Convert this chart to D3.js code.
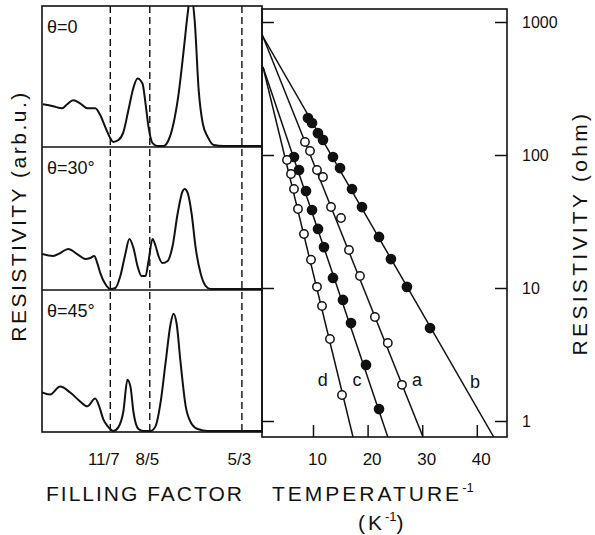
<!DOCTYPE html>
<html>
<head>
<meta charset="utf-8">
<script src="https://cdn.jsdelivr.net/npm/d3@7"></script>
<style>
  body { margin: 0; background: #fff; }
  text { font-family: "Liberation Sans", Arial, sans-serif; fill: #111; }
</style>
</head>
<body>
<svg id="chart" width="595" height="535"></svg>
<script>
// ---- left: resistivity (arb. u.) vs filling factor, three tilt angles ----
const nuMarks = [11 / 7, 8 / 5, 5 / 3];
const nuLabels = ["11/7", "8/5", "5/3"];
const angleLabels = ["θ=0", "θ=30°", "θ=45°"];

const nu0 = [1.5227, 1.5300, 1.5365, 1.5402, 1.5445, 1.5496, 1.5547, 1.5605, 1.5642, 1.5678, 1.5714, 1.5736,
    1.5773, 1.5809, 1.5845, 1.5882, 1.5911, 1.5947, 1.5969, 1.5991, 1.6020, 1.6056, 1.6100, 1.6136, 1.6172,
    1.6209, 1.6245, 1.6274, 1.6296, 1.6325, 1.6354, 1.6383, 1.6420, 1.6463, 1.6536, 1.6812];
const amp0 = [0.30, 0.286, 0.271, 0.30, 0.329, 0.307, 0.271, 0.271, 0.221, 0.136, 0.057, 0.029,
    0.043, 0.10, 0.257, 0.421, 0.486, 0.45, 0.307, 0.136, 0.021, 0.0, 0.0, 0.043, 0.164,
    0.379, 0.686, 0.95, 1.10, 0.90, 0.40, 0.164, 0.064, 0.007, 0.0, 0.0];

const nu30 = [1.5220, 1.5300, 1.5351, 1.5409, 1.5474, 1.5533, 1.5569, 1.5598, 1.5620, 1.5642, 1.5678, 1.5714,
    1.5751, 1.5787, 1.5823, 1.5852, 1.5882, 1.5911, 1.5940, 1.5969, 1.5991, 1.6020, 1.6042, 1.6063, 1.6092,
    1.6129, 1.6165, 1.6201, 1.6238, 1.6252, 1.6274, 1.6303, 1.6332, 1.6369, 1.6405, 1.6441, 1.6812];
const amp30 = [0.248, 0.234, 0.255, 0.284, 0.248, 0.213, 0.22, 0.234, 0.184, 0.113, 0.035, 0.0,
    0.007, 0.092, 0.248, 0.355, 0.291, 0.163, 0.092, 0.092, 0.199, 0.355, 0.305, 0.234, 0.184,
    0.199, 0.305, 0.532, 0.695, 0.709, 0.681, 0.532, 0.291, 0.106, 0.021, 0.0, 0.0];

const nu45 = [1.5220, 1.5278, 1.5351, 1.5424, 1.5496, 1.5547, 1.5605, 1.5634, 1.5663, 1.5700, 1.5736, 1.5773,
    1.5809, 1.5838, 1.5860, 1.5882, 1.5918, 1.5954, 1.6005, 1.6042, 1.6078, 1.6114, 1.6151, 1.6172, 1.6194,
    1.6223, 1.6260, 1.6296, 1.6347, 1.6420, 1.6812];
const amp45 = [0.275, 0.261, 0.317, 0.275, 0.211, 0.176, 0.232, 0.176, 0.085, 0.028, 0.0, 0.028,
    0.141, 0.366, 0.317, 0.134, 0.014, 0.0, 0.0, 0.035, 0.204, 0.486, 0.768, 0.838, 0.768,
    0.486, 0.176, 0.063, 0.014, 0.0, 0.0];

// ---- right: resistivity (ohm) vs 1/T ----
const invTa = [8.53, 9.45, 10.73, 11.83, 13.30, 15.13, 16.59, 18.60, 21.34, 23.70, 26.30];
const rhoA = [125.3, 107.2, 77.1, 68.4, 40.6, 33.6, 19.3, 12.3, 6.05, 3.86, 1.87];
const invTb = [9.08, 9.82, 10.90, 11.83, 13.66, 14.95, 17.14, 18.97, 22.09, 24.27, 27.20, 31.43];
const rhoB = [189.7, 174, 146, 130, 96.6, 79.8, 55.5, 40.6, 24.2, 16.5, 10.2, 5.0];
const invTc = [6.52, 7.44, 8.72, 9.82, 10.92, 12.01, 13.66, 15.49, 16.96, 19.71, 22.09];
const rhoC = [96.6, 77.1, 53.6, 38.6, 27.8, 20.3, 11.9, 8.13, 5.45, 2.64, 1.23];
const invTd = [5.24, 5.97, 6.52, 7.25, 8.35, 9.63, 10.73, 11.65, 13.11, 15.31];
const rhoD = [91.7, 71.9, 55.5, 39.3, 25.5, 16.3, 10.2, 7.33, 4.14, 1.57];

// fitted straight lines: [invT start, rho start, invT end, rho end]
const fitA = [0.71, 798, 30.15, 0.758];
const fitB = [0.66, 798, 43.1, 0.758];
const fitC = [0.84, 459, 23.7, 0.758];
const fitD = [0.84, 459, 17.33, 0.758];
// curve letter positions [invT, rho]
const labelA = [29.05, 2.03], labelB = [39.67, 1.96], labelC = [18.06, 2.03], labelD = [11.8, 2.03];

const invTTicks = [10, 20, 30, 40];
const rhoTicks = [1, 10, 100, 1000];

const svg = d3.select("#chart");

// layout
const left = { x0: 42, x1: 262, tops: [6, 147, 290], bottoms: [147, 290, 432] };
const right = { x0: 262, x1: 507, y0: 9, y1: 437 };

const xNu = d3.scaleLinear().domain([1.5220, 1.6812]).range([left.x0, left.x1]);

const panels = [
    { nu: nu0, amp: amp0, label: angleLabels[0] },
    { nu: nu30, amp: amp30, label: angleLabels[1] },
    { nu: nu45, amp: amp45, label: angleLabels[2] }
];

svg.append("clipPath").attr("id", "clipLeft")
    .append("rect")
    .attr("x", left.x0).attr("y", left.tops[0])
    .attr("width", left.x1 - left.x0).attr("height", left.bottoms[2] - left.tops[0]);

panels.forEach((p, i) => {
    const top = left.tops[i], bottom = left.bottoms[i] - 1;
    const y = d3.scaleLinear().domain([0, 1]).range([bottom, top + 1]);
    const pts = p.nu.map((n, k) => [n, p.amp[k]]);

    const line = d3.line()
        .x(d => xNu(d[0]))
        .y(d => y(d[1]))
        .curve(d3.curveMonotoneX);

    svg.append("path")
        .datum(pts)
        .attr("clip-path", "url(#clipLeft)")
        .attr("fill", "none")
        .attr("stroke", "#111")
        .attr("stroke-width", 2)
        .attr("stroke-linejoin", "round")
        .attr("d", line);

    svg.append("text")
        .attr("x", left.x0 + 5)
        .attr("y", top + 27)
        .style("font-size", "18px")
        .text(p.label);
});

// dashed filling factor markers
svg.append("g").selectAll("line")
    .data(nuMarks)
    .enter()
    .append("line")
    .attr("x1", d => xNu(d)).attr("x2", d => xNu(d))
    .attr("y1", left.tops[0]).attr("y2", left.bottoms[2])
    .attr("stroke", "#111")
    .attr("stroke-width", 1.4)
    .attr("stroke-dasharray", "7,4");

// left frame
svg.append("rect")
    .attr("x", left.x0).attr("y", left.tops[0])
    .attr("width", left.x1 - left.x0).attr("height", left.bottoms[2] - left.tops[0])
    .attr("fill", "none").attr("stroke", "#111").attr("stroke-width", 1.6);
[left.bottoms[0], left.bottoms[1]].forEach(yy => {
    svg.append("line")
        .attr("x1", left.x0).attr("x2", left.x1)
        .attr("y1", yy).attr("y2", yy)
        .attr("stroke", "#111").attr("stroke-width", 1.6);
});

// filling factor labels
svg.append("g")
    .attr("transform", `translate(0,${left.bottoms[2]})`)
    .call(d3.axisBottom(xNu).tickValues(nuMarks).tickSize(0).tickPadding(21)
        .tickFormat((d, i) => nuLabels[i]))
    .call(g => g.select(".domain").remove())
    .call(g => g.selectAll("text")
        .attr("dx", (d, i) => i === 0 ? -7 : -3)
        .style("font-size", "17px")
        .style("font-family", "'Liberation Sans', Arial, sans-serif"));

// ---- right panel ----
const xT = d3.scaleLinear().domain([0.66, 45.53]).range([right.x0, right.x1]);
const yR = d3.scaleLog().domain([1, 1000]).range([421, 22]);

svg.append("clipPath").attr("id", "clipRight")
    .append("rect")
    .attr("x", right.x0).attr("y", right.y0)
    .attr("width", right.x1 - right.x0).attr("height", right.y1 - right.y0);

const series = [
    { key: "a", x: invTa, y: rhoA, fit: fitA, filled: false, label: labelA },
    { key: "b", x: invTb, y: rhoB, fit: fitB, filled: true, label: labelB },
    { key: "c", x: invTc, y: rhoC, fit: fitC, filled: true, label: labelC },
    { key: "d", x: invTd, y: rhoD, fit: fitD, filled: false, label: labelD }
];

const fitG = svg.append("g").attr("clip-path", "url(#clipRight)");
fitG.selectAll("line")
    .data(series)
    .enter()
    .append("line")
    .attr("x1", d => xT(d.fit[0])).attr("y1", d => yR(d.fit[1]))
    .attr("x2", d => xT(d.fit[2])).attr("y2", d => yR(d.fit[3]))
    .attr("stroke", "#111")
    .attr("stroke-width", 1.5);

series.forEach(s => {
    const pts = s.x.map((v, k) => [v, s.y[k]]);
    svg.append("g").selectAll("circle")
        .data(pts)
        .enter()
        .append("circle")
        .attr("cx", d => xT(d[0]))
        .attr("cy", d => yR(d[1]))
        .attr("r", s.filled ? 4.6 : 4.2)
        .attr("fill", s.filled ? "#111" : "#fff")
        .attr("stroke", "#111")
        .attr("stroke-width", 1.5);

    svg.append("text")
        .attr("x", xT(s.label[0]))
        .attr("y", yR(s.label[1]))
        .attr("text-anchor", "middle")
        .attr("dominant-baseline", "central")
        .style("font-size", "18px")
        .text(s.key);
});

// right frame
svg.append("rect")
    .attr("x", right.x0).attr("y", right.y0)
    .attr("width", right.x1 - right.x0).attr("height", right.y1 - right.y0)
    .attr("fill", "none").attr("stroke", "#111").attr("stroke-width", 1.6);

// right axis (labels) with inward ticks
svg.append("g")
    .attr("transform", `translate(${right.x1},0)`)
    .call(d3.axisRight(yR).tickValues(rhoTicks).tickSize(-12).tickPadding(15).tickFormat(d3.format("d")))
    .call(g => g.select(".domain").remove())
    .call(g => g.selectAll("line").attr("stroke", "#111").attr("stroke-width", 1.5))
    .call(g => g.selectAll("text").style("font-size", "16px")
        .style("font-family", "'Liberation Sans', Arial, sans-serif").attr("text-anchor", "start"));

// inward ticks on the left edge of the right panel
svg.append("g")
    .attr("transform", `translate(${right.x0},0)`)
    .call(d3.axisRight(yR).tickValues(rhoTicks).tickSize(12).tickFormat(""))
    .call(g => g.select(".domain").remove())
    .call(g => g.selectAll("line").attr("stroke", "#111").attr("stroke-width", 1.5));

// bottom axis
svg.append("g")
    .attr("transform", `translate(0,${right.y1})`)
    .call(d3.axisBottom(xT).tickValues(invTTicks).tickSize(-12).tickPadding(16))
    .call(g => g.select(".domain").remove())
    .call(g => g.selectAll("line").attr("stroke", "#111").attr("stroke-width", 1.5))
    .call(g => g.selectAll("text").attr("dx", 4).style("font-size", "17px")
        .style("font-family", "'Liberation Sans', Arial, sans-serif"));

// axis titles
svg.append("text")
    .attr("transform", "rotate(-90)")
    .attr("x", -216)
    .attr("y", 26)
    .attr("text-anchor", "middle")
    .style("font-size", "21px")
    .style("letter-spacing", "2.5px")
    .text("RESISTIVITY (arb.u.)");

svg.append("text")
    .attr("transform", "rotate(-90)")
    .attr("x", -233)
    .attr("y", 587)
    .attr("text-anchor", "middle")
    .style("font-size", "21px")
    .style("letter-spacing", "3.3px")
    .text("RESISTIVITY (ohm)");

svg.append("text")
    .attr("x", 145)
    .attr("y", 501)
    .attr("text-anchor", "middle")
    .style("font-size", "21px")
    .style("letter-spacing", "2px")
    .text("FILLING FACTOR");

const tt = svg.append("text")
    .attr("x", 272)
    .attr("y", 501)
    .style("font-size", "21px")
    .style("letter-spacing", "3px")
    .text("TEMPERATURE");
tt.append("tspan").attr("dy", -9).style("font-size", "13px").style("letter-spacing", "0px").text("-1");

const kt = svg.append("text")
    .attr("x", 358)
    .attr("y", 530)
    .style("font-size", "21px")
    .style("letter-spacing", "3px")
    .text("(K");
kt.append("tspan").attr("dy", -9).style("font-size", "13px").style("letter-spacing", "0px").text("-1");
kt.append("tspan").attr("dy", 9).text(")");
</script>
</body>
</html>
